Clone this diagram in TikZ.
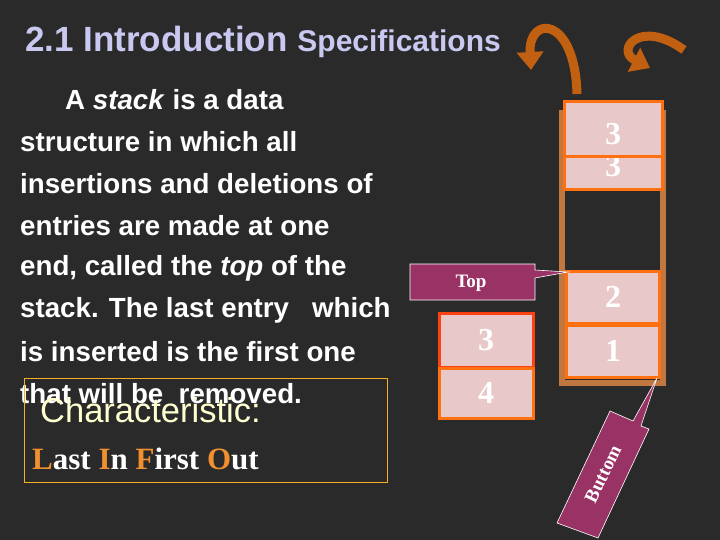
\documentclass[tikz,border=0pt]{standalone}
\usepackage{fontspec}
\setmainfont{Liberation Serif}
\setsansfont{Liberation Sans}
\usetikzlibrary{arrows.meta}
\definecolor{bg}{HTML}{2A2A2A}
\definecolor{ttl}{HTML}{C8C8F0}
\definecolor{org}{HTML}{FF7010}
\definecolor{redo}{HTML}{FF4010}
\definecolor{cellc}{HTML}{E8C8C8}
\definecolor{mag}{HTML}{993366}
\definecolor{wood}{HTML}{C07840}
\definecolor{lio}{HTML}{F09030}
\definecolor{pale}{HTML}{FFFFD0}
\definecolor{arr}{HTML}{C06010}
\tikzset{
 body/.style={anchor=west,text=white,font=\sffamily\bfseries\fontsize{27.7}{27.7}\selectfont,inner sep=0},
 cellbox/.style={draw=org,line width=3pt,fill=cellc,text=white,font=\bfseries\fontsize{32}{32}\selectfont},
 callout/.style={fill=mag,draw=white,line width=0.6pt},
 bigarrow/.style={draw=arr,line width=9pt,-{Triangle[length=18pt,width=26pt]}},
}
\begin{document}
\begin{tikzpicture}[x=1pt,y=-1pt]
\fill[bg] (0,0) rectangle (720,540);
\useasboundingbox (0,0) rectangle (720,540);
\node[anchor=base west,inner sep=0,text=ttl,font=\sffamily\bfseries\fontsize{35}{35}\selectfont] (title) at (25,52) {2.1 Introduction \fontsize{30}{30}\selectfont Specifications};
\node[body] (l1) at (65,100) {A \textit{stack} is a data};
\node[body] (l2) at (20,142) {structure in which all};
\node[body] (l3) at (20,184) {insertions and deletions of};
\node[body] (l4) at (20,226) {entries are made at one};
\node[body] (l5) at (20,268) {end, called the \textit{top} of the};
\node[body] (l6) at (20,310) {stack. The last entry \ \ which};
\node[body] (l7) at (20,352) {is inserted is the first one};
\node[body] (l8) at (20,394) {that will be \ removed.};
\draw[draw=lio!70!yellow,line width=0.7pt] (24,378) rectangle (387,482);
\node[anchor=west,inner sep=0,text=pale,font=\sffamily\fontsize{34.5}{34.5}\selectfont] (ch) at (40,410) {Characteristic:};
\node[anchor=west,inner sep=0,text=white,font=\bfseries\fontsize{31}{31}\selectfont] (lifo) at (32,459) {\textcolor{lio}{L}ast \textcolor{lio}{I}n \textcolor{lio}{F}irst \textcolor{lio}{O}ut};
% tube
\fill[wood] (559,110) rectangle (565,386);
\fill[wood] (660,110) rectangle (666,386);
\fill[wood] (559,380) rectangle (666,386);
\draw[org,line width=3pt,fill=cellc] (564,102) rectangle (662,190);
\node[text=white,font=\bfseries\fontsize{32}{32}\selectfont] (t3) at (613,134) {3};
\draw[org,line width=3pt] (564,157) -- (662,157);
\begin{scope}
\clip (565,159) rectangle (661,188);
\node[text=white,font=\bfseries\fontsize{32}{32}\selectfont] (t3b) at (613,166) {3};
\end{scope}
\node[cellbox,minimum width=93pt,minimum height=52pt] (c2) at (613,297) {2};
\node[cellbox,minimum width=93pt,minimum height=52pt] (c1) at (613,351) {1};
% left cells
\node[cellbox,draw=redo,minimum width=94pt,minimum height=54pt] (c3) at (486,340) {3};
\node[cellbox,minimum width=94pt,minimum height=50pt] (c4) at (486,393) {4};
% Top callout
\draw[callout] (410,264) -- (535,264) -- (535,270) -- (568,272) -- (535,278) -- (535,300) -- (410,300) -- cycle;
\node[text=white,font=\bfseries\fontsize{19}{19}\selectfont] (toplbl) at (471,283) {Top};
% Buttom callout
\draw[callout] (557,523) -- (610,411) -- (633,421) -- (657,378) -- (641,426) -- (649,429) -- (598,538) -- cycle;
\node[rotate=64,text=white,font=\bfseries\fontsize{19}{19}\selectfont] (btlbl) at (603,474) {Buttom};
% arrows
\draw[bigarrow] (577,94) .. controls (575,15) and (528,15) .. (531,70);
\draw[bigarrow] (684,50) .. controls (640,18) and (615,50) .. (650,68);
\end{tikzpicture}
\end{document}
